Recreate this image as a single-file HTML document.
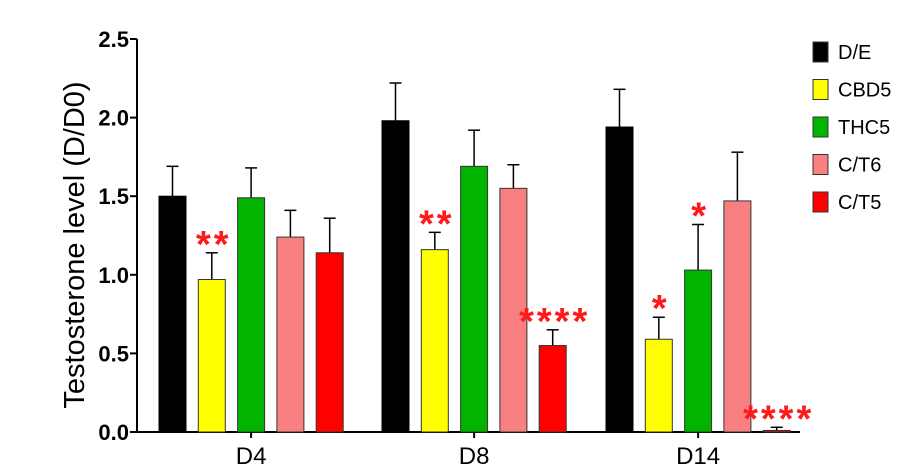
<!DOCTYPE html>
<html><head><meta charset="utf-8"><style>
body{margin:0;background:#fff;}
svg{display:block;font-family:"Liberation Sans",Arial,sans-serif;}
</style></head><body>
<svg id="chart" width="920" height="471" viewBox="0 0 920 471" xmlns="http://www.w3.org/2000/svg"></svg>
<script>
const groups = ["D4","D8","D14"];
const seriesNames = ["D/E","CBD5","THC5","C/T6","C/T5"];
const seriesColors = ["#000000","#ffff00","#00b400","#f88080","#ff0000"];
const valuesDE   = [1.50, 1.98, 1.94];
const valuesCBD5 = [0.97, 1.16, 0.59];
const valuesTHC5 = [1.49, 1.69, 1.03];
const valuesCT6  = [1.24, 1.55, 1.47];
const valuesCT5  = [1.14, 0.55, 0.01];
const errDE   = [0.19, 0.24, 0.24];
const errCBD5 = [0.17, 0.11, 0.14];
const errTHC5 = [0.19, 0.23, 0.29];
const errCT6  = [0.17, 0.15, 0.31];
const errCT5  = [0.22, 0.10, 0.02];
const starsDE   = ["","",""];
const starsCBD5 = ["**","**","*"];
const starsTHC5 = ["","","*"];
const starsCT6  = ["","",""];
const starsCT5  = ["","****","****"];
const yTicks = ["0.0","0.5","1.0","1.5","2.0","2.5"];

const values = [valuesDE,valuesCBD5,valuesTHC5,valuesCT6,valuesCT5];
const errs = [errDE,errCBD5,errTHC5,errCT6,errCT5];
const stars = [starsDE,starsCBD5,starsTHC5,starsCT6,starsCT5];

const svg = document.getElementById('chart');
const NS = "http://www.w3.org/2000/svg";
const x0 = 137, y0 = 432, yTop = 39, yMax = 2.5;
const y = v => y0 - v/yMax*(y0-yTop);
const groupStart = [159, 382, 606];
const barW = 27, step = 39.3;
const xBar = (g,s) => groupStart[g] + s*step;

function mk(tag, attrs, parent){
  const e = document.createElementNS(NS, tag);
  for (const k in attrs) e.setAttribute(k, attrs[k]);
  (parent||svg).appendChild(e);
  return e;
}

const yAxis = mk('g',{});


mk('line',{x1:x0,y1:yTop,x2:x0,y2:y0,stroke:'#000','stroke-width':2},yAxis);
yTicks.forEach(t=>{
  const yy = y(parseFloat(t));
  mk('line',{x1:x0-7,y1:yy,x2:x0,y2:yy,stroke:'#000','stroke-width':2},yAxis);
  const tx = mk('text',{x:x0-8,y:yy+8,'text-anchor':'end','font-size':22,'font-weight':'bold'},yAxis);
  tx.textContent = t;
  
  
});
const yt = mk('text',{x:0,y:0,'font-size':29,'text-anchor':'middle',transform:'translate(84,245) rotate(-90)'});
yt.textContent = 'Testosterone level (D/D0)';



const xAxis = mk('g',{});


mk('line',{x1:x0,y1:y0,x2:800,y2:y0,stroke:'#000','stroke-width':2},xAxis);
groups.forEach((gname,g)=>{
  const cx = xBar(g,2)+barW/2;
  mk('line',{x1:cx,y1:y0,x2:cx,y2:y0+6,stroke:'#000','stroke-width':2},xAxis);
  const t = mk('text',{x:cx,y:y0+32,'text-anchor':'middle','font-size':24},xAxis);
  t.textContent = gname;
  
  
});

groups.forEach((gname,g)=>{
  seriesNames.forEach((sname,s)=>{
    const v = values[s][g], e = errs[s][g];
    const bx = xBar(g,s), top = y(v), etop = y(v+e), cx = bx+barW/2;
    const bg = mk('g',{});
    
    
    mk('line',{x1:cx,y1:top,x2:cx,y2:etop,stroke:'#000','stroke-width':1.5},bg);
    mk('line',{x1:cx-6,y1:etop,x2:cx+6,y2:etop,stroke:'#000','stroke-width':1.5},bg);
    mk('rect',{x:bx,y:top,width:barW,height:Math.max(y0-top,1),fill:seriesColors[s],stroke:s===0?'#000':'#333','stroke-width':1},bg);
    if (stars[s][g]) {
      const st = mk('text',{x:cx+2,y:etop+4,'text-anchor':'middle','font-size':38,'font-weight':'bold',fill:'#ff1a1a','letter-spacing':3},bg);
      st.textContent = stars[s][g];
      
      
    }
  });
});

const leg = mk('g',{});


seriesNames.forEach((n,i)=>{
  const ly = 52 + i*37.5;
  const en = mk('g',{},leg);
  
  
  mk('rect',{x:813,y:ly-10,width:15,height:20,fill:seriesColors[i],stroke:'#333','stroke-width':1},en);
  const t = mk('text',{x:838,y:ly+7,'font-size':20},en);
  t.textContent = n;
});
</script>
</body></html>
